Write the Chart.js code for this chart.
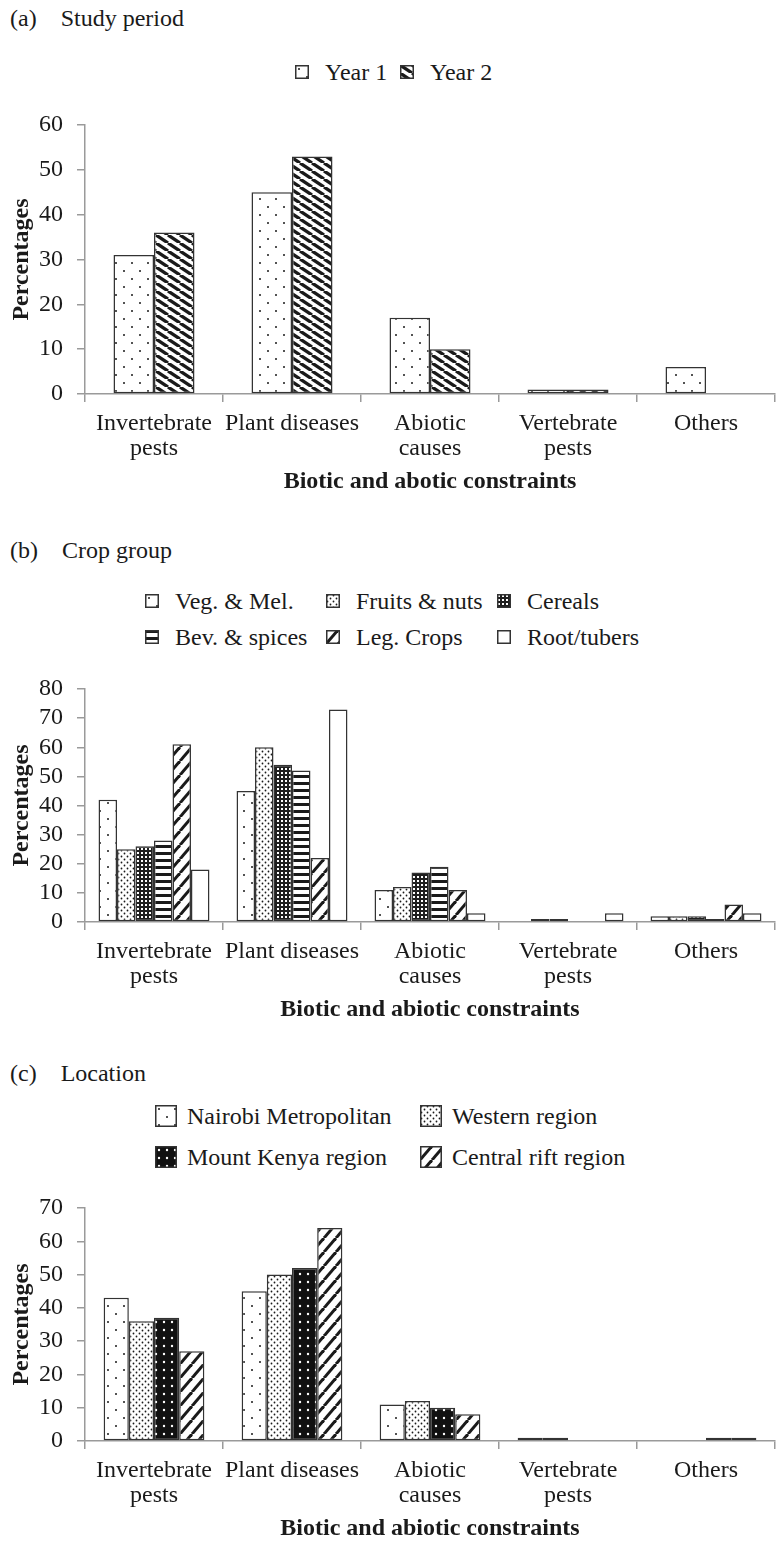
<!DOCTYPE html>
<html>
<head>
<meta charset="utf-8">
<script src="https://cdn.jsdelivr.net/npm/chart.js@4"></script>
<style>
    html, body { margin: 0; padding: 0; background: #fff; overflow: hidden; }
    #page { position: relative; width: 782px; height: 1542px; overflow: hidden;
            font-family: 'Liberation Serif', 'Times New Roman', serif; color: #1a1a1a; }
    .ptitle { position: absolute; left: 10px; font-size: 24px; line-height: 28px; white-space: nowrap; }
    .ptitle span { margin-right: 24px; }
    .item { position: absolute; height: 28px; display: flex; align-items: center;
            font-size: 24px; line-height: 28px; white-space: nowrap; }
    .item canvas { display: block; }
    .plot { position: absolute; left: 0; }
</style>
</head>
<body>
<div id="page">
    <div class="ptitle" style="top:4px"><span>(a)</span>Study period</div>
    <div class="ptitle" style="top:536px"><span>(b)</span>Crop group</div>
    <div class="ptitle" style="top:1059px"><span>(c)</span>Location</div>
    <canvas id="chartA" class="plot" width="782" height="397" style="top:99px"></canvas>
    <canvas id="chartB" class="plot" width="782" height="361" style="top:663px"></canvas>
    <canvas id="chartC" class="plot" width="782" height="361" style="top:1182px"></canvas>
</div>
<script>
// categories on the x axis (shared by all three panels)
const categories = [['Invertebrate', 'pests'], ['Plant diseases'], ['Abiotic', 'causes'], ['Vertebrate', 'pests'], ['Others']];

// (a) study period
const periodLabels = ['Year 1', 'Year 2'];
const year1 = [31, 45, 17, 1, 6];
const year2 = [36, 53, 10, 1, 0];

// (b) crop group
const cropLabels = ['Veg. & Mel.', 'Fruits & nuts', 'Cereals', 'Bev. & spices', 'Leg. Crops', 'Root/tubers'];
const vegMel = [42, 45, 11, 0, 2];
const fruitsNuts = [25, 60, 12, 1, 2];
const cereals = [26, 54, 17, 1, 2];
const bevSpices = [28, 52, 19, 0, 1];
const legCrops = [61, 22, 11, 0, 6];
const rootTubers = [18, 73, 3, 3, 3];

// (c) location
const locationLabels = ['Nairobi Metropolitan', 'Western region', 'Mount Kenya region', 'Central rift region'];
const nairobi = [43, 45, 11, 1, 0];
const western = [36, 50, 12, 1, 0];
const mountKenya = [37, 52, 10, 0, 1];
const centralRift = [27, 64, 8, 0, 1];

const yTicksA = { max: 60, step: 10 };
const yTicksB = { max: 80, step: 10 };
const yTicksC = { max: 70, step: 10 };

Chart.defaults.font.family = "'Liberation Serif', 'Times New Roman', serif";
Chart.defaults.font.size = 24;
Chart.defaults.color = '#1a1a1a';

const ink = '#1a1a1a';
const helper = document.createElement('canvas').getContext('2d');

// small repeating tiles for the hatch fills
function tile(w, h, bg, draw) {
    const cv = document.createElement('canvas');
    cv.width = w; cv.height = h;
    const c = cv.getContext('2d');
    c.fillStyle = bg;
    c.fillRect(0, 0, w, h);
    draw(c, w, h);
    return helper.createPattern(cv, 'repeat');
}
function dot(c, x, y, r, col) {
    c.fillStyle = col;
    c.beginPath();
    c.arc(x, y, r, 0, Math.PI * 2);
    c.fill();
}

const fills = {
    sparseDots: tile(16, 16, '#fff', c => { dot(c, 4, 4, 1, ink); dot(c, 12, 12, 1, ink); }),
    denseDots: tile(6, 6, '#fff', c => { dot(c, 1.5, 1.5, 0.9, ink); dot(c, 4.5, 4.5, 0.9, ink); }),
    darkGrid: tile(4, 4, '#1f1f1f', c => { c.fillStyle = '#fff'; c.fillRect(1, 1, 2, 2); }),
    blackDots: tile(8, 8, '#111', c => { dot(c, 4, 4, 1.2, '#fff'); }),
    backStripes: tile(12, 8, '#fff', (c, w, h) => {
        c.strokeStyle = ink; c.lineWidth = 3.3;
        [-w, 0, w].forEach(x0 => { c.beginPath(); c.moveTo(x0, 0); c.lineTo(x0 + w, h); c.stroke(); });
    }),
    slashStripes: tile(12, 14, '#fff', (c, w, h) => {
        c.strokeStyle = ink; c.lineWidth = 3;
        [-w, 0, w].forEach(x0 => { c.beginPath(); c.moveTo(x0, h); c.lineTo(x0 + w, 0); c.stroke(); });
    }),
    hLines: tile(8, 7, '#fff', c => { c.fillStyle = ink; c.fillRect(0, 0, 8, 3); }),
    plain: '#fff'
};

function makeLegend(labels, patterns, spots, box, gap) {
    const page = document.getElementById('page');
    labels.forEach((label, i) => {
        const item = document.createElement('div');
        item.className = 'item';
        item.style.left = spots[i][0] + 'px';
        item.style.top = (spots[i][1] - 14) + 'px';
        const sw = document.createElement('canvas');
        sw.width = box; sw.height = box;
        const c = sw.getContext('2d');
        c.fillStyle = patterns[i];
        c.fillRect(0, 0, box, box);
        c.strokeStyle = '#333';
        c.lineWidth = 1.5;
        c.strokeRect(0.75, 0.75, box - 1.5, box - 1.5);
        const txt = document.createElement('span');
        txt.textContent = label;
        txt.style.marginLeft = (gap - box) + 'px';
        item.appendChild(sw);
        item.appendChild(txt);
        page.appendChild(item);
    });
}

function makeChart(id, labels, series, patterns, yTicks, catPct, xTitle) {
    const axisGrey = '#9a9a9a';
    new Chart(document.getElementById(id), {
        type: 'bar',
        data: {
            labels: categories,
            datasets: series.map((d, i) => ({
                label: labels[i],
                data: d,
                backgroundColor: patterns[i],
                borderColor: '#333',
                borderWidth: 1.5,
                borderSkipped: false,
                barPercentage: 1,
                categoryPercentage: catPct
            }))
        },
        options: {
            responsive: false,
            animation: false,
            layout: { padding: { top: 20, right: 7, left: 0, bottom: 0 } },
            plugins: { legend: { display: false }, tooltip: { enabled: false } },
            scales: {
                x: {
                    grid: { drawOnChartArea: false, drawTicks: true, tickLength: 8, color: axisGrey, lineWidth: 1.5, offset: true },
                    border: { display: true, color: axisGrey, width: 1.5 },
                    ticks: { padding: 9, maxRotation: 0, autoSkip: false, font: { size: 24, lineHeight: 1.05 } },
                    title: { display: true, text: xTitle, padding: 0, font: { size: 24, weight: 'bold', lineHeight: 1.2 } },
                    afterFit: s => { s.height = 102; }
                },
                y: {
                    min: 0,
                    max: yTicks.max,
                    grid: { drawOnChartArea: false, drawTicks: true, tickLength: 8, color: axisGrey, lineWidth: 1.5 },
                    border: { display: true, color: axisGrey, width: 1.5 },
                    ticks: { stepSize: yTicks.step, autoSkip: false, padding: 14, font: { size: 24, lineHeight: 1 } },
                    title: { display: true, text: 'Percentages', padding: { top: 7, bottom: 0 }, font: { size: 24, weight: 'bold', lineHeight: 1.2 } },
                    afterFit: s => { s.width = 85; }
                }
            }
        }
    });
}

const fillsA = [fills.sparseDots, fills.backStripes];
const fillsB = [fills.sparseDots, fills.denseDots, fills.darkGrid, fills.hLines, fills.slashStripes, fills.plain];
const fillsC = [fills.sparseDots, fills.denseDots, fills.blackDots, fills.slashStripes];

makeLegend(periodLabels, fillsA, [[295, 72], [400, 72]], 14, 30);
makeLegend(cropLabels, fillsB, [[145, 601], [326, 601], [497, 601], [145, 637], [326, 637], [497, 637]], 14, 30);
makeLegend(locationLabels, fillsC, [[155, 1116], [420, 1116], [155, 1157], [420, 1157]], 22, 32);

makeChart('chartA', periodLabels, [year1, year2], fillsA, yTicksA, 0.587, 'Biotic and abotic constraints');
makeChart('chartB', cropLabels, [vegMel, fruitsNuts, cereals, bevSpices, legCrops, rootTubers], fillsB, yTicksB, 0.804, 'Biotic and abiotic constraints');
makeChart('chartC', locationLabels, [nairobi, western, mountKenya, centralRift], fillsC, yTicksC, 0.73, 'Biotic and abiotic constraints');
</script>
</body>
</html>
